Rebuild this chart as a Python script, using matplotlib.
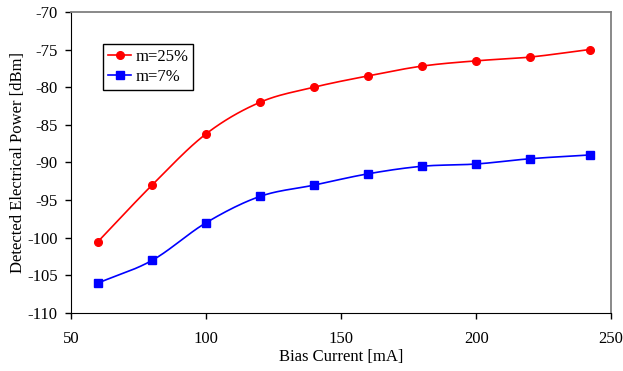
import numpy as np
import matplotlib
matplotlib.use('Agg')
import matplotlib.pyplot as plt

bias = [60, 80, 100, 120, 140, 160, 180, 200, 220, 242]
m25 = [-100.5, -93.0, -86.2, -82.0, -80.0, -78.5, -77.2, -76.5, -76.0, -75.0]
m7 = [-106.0, -103.0, -98.0, -94.5, -93.0, -91.5, -90.5, -90.2, -89.5, -89.0]

plt.rcParams['font.family'] = ['Liberation Serif', 'DejaVu Serif']
plt.rcParams['font.size'] = 12
plt.rcParams['axes.unicode_minus'] = False


def smooth(xs, ys, n=20):
    # catmull-rom curve through the points, like excel's smoothed line
    x = np.asarray(xs, float)
    y = np.asarray(ys, float)
    px = np.concatenate([[2 * x[0] - x[1]], x, [2 * x[-1] - x[-2]]])
    py = np.concatenate([[2 * y[0] - y[1]], y, [2 * y[-1] - y[-2]]])
    t = np.linspace(0, 1, n)
    outx, outy = [], []
    for i in range(1, len(px) - 2):
        for p, out in ((px, outx), (py, outy)):
            p0, p1, p2, p3 = p[i - 1], p[i], p[i + 1], p[i + 2]
            out.extend(0.5 * (2 * p1 + (-p0 + p2) * t
                              + (2 * p0 - 5 * p1 + 4 * p2 - p3) * t ** 2
                              + (-p0 + 3 * p1 - 3 * p2 + p3) * t ** 3))
    return outx, outy


fig = plt.figure(figsize=(6.23, 3.71), dpi=100)
ax = fig.add_axes([0.114, 0.156, 0.867, 0.812])

for ys, col, mk, lab in ((m25, 'red', 'o', 'm=25%'), (m7, 'blue', 's', 'm=7%')):
    sx, sy = smooth(bias, ys)
    ax.plot(sx, sy, color=col, lw=1.2)
    ax.plot(bias, ys, ls='none', marker=mk, color=col, ms=5.5)
    ax.plot([], [], color=col, lw=1.2, marker=mk, ms=5.5, label=lab)

ax.set_xlim(50, 250)
ax.set_ylim(-110, -70)
ax.set_xticks(range(50, 251, 50))
ax.set_yticks(range(-110, -69, 5))
ax.set_xlabel('Bias Current [mA]', labelpad=1)
ax.set_ylabel('Detected Electrical Power [dBm]', labelpad=1)
ax.tick_params(direction='out', length=4, width=1, top=False, right=False)
ax.tick_params(axis='x', pad=9)
ax.tick_params(axis='y', pad=5.5)

for s in ('left', 'bottom'):
    ax.spines[s].set_color('black')
for s in ('top', 'right'):
    ax.spines[s].set_color('gray')
    ax.spines[s].set_linewidth(1.3)

leg = ax.legend(loc='upper left', bbox_to_anchor=(0.059, 0.895), fancybox=False,
                edgecolor='black', framealpha=1, handlelength=1.4,
                borderpad=0.3, labelspacing=0.25, handletextpad=0.25,
                borderaxespad=0)
leg.get_frame().set_linewidth(1.0)

fig.savefig('out.png', dpi=100)
